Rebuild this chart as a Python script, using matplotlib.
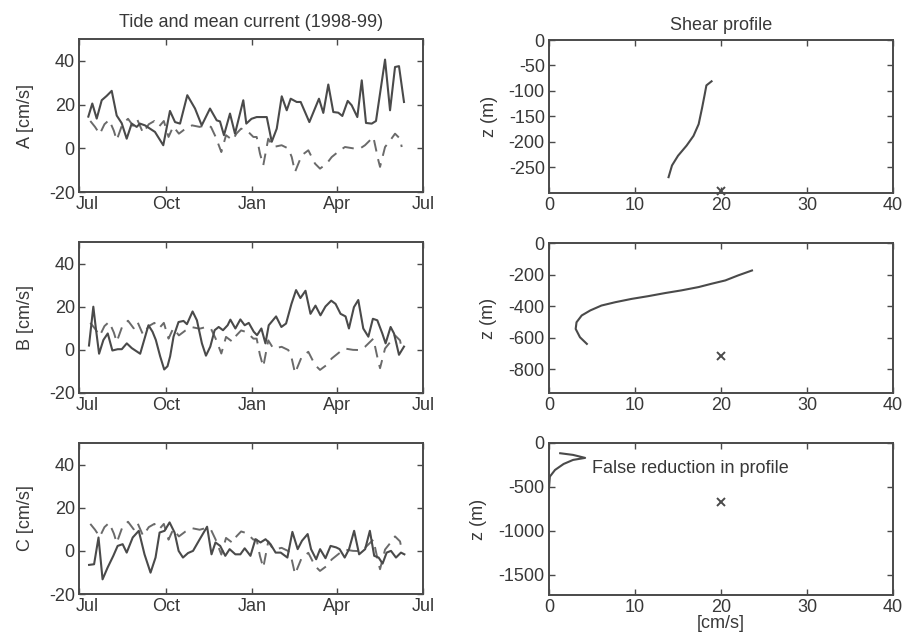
import numpy as np
import matplotlib
matplotlib.use("Agg")
import matplotlib.pyplot as plt
import matplotlib.dates as mdates
from matplotlib.transforms import ScaledTranslation

plt.rcParams['font.family'] = ['Liberation Sans', 'DejaVu Sans']
plt.rcParams['axes.unicode_minus'] = False

INK = '#4a4a4a'
TXT = '#383838'
FS = 13

# ---- time series: days since 1 Jul 1998, speeds in cm/s ----
start = np.datetime64('1998-07-01')

a_days = [9.9, 14.1, 18.8, 24.1, 29.4, 34.7, 40.0, 45.3, 50.6, 55.9, 61.2, 64.7, 70.0,
          75.3, 80.6, 89.4, 96.5, 101.9, 107.2, 114.9, 123.1, 130.2, 139.0, 146.1,
          149.6, 153.8, 160.2, 165.5, 174.3, 177.5, 183.0, 188.5, 199.2, 204.5, 209.8,
          215.1, 220.4, 224.6, 231.0, 235.2, 244.4, 254.6, 259.2, 264.5, 269.8, 275.1,
          279.4, 285.1, 289.3, 295.3, 300.0, 304.5, 310.6, 315.1, 324.7, 330.0, 335.3,
          339.5, 344.8]
a_vals = [14.5, 20.5, 13.6, 22.0, 24.0, 26.3, 15.0, 11.5, 4.4, 11.3, 9.8, 11.3, 10.5,
          9.0, 7.5, 1.4, 17.1, 12.0, 11.3, 24.3, 18.2, 10.5, 18.2, 12.8,
          12.3, 6.0, 15.9, 6.7, 22.0, 11.3, 13.5, 14.3, 14.3, 3.0, 9.0,
          23.8, 17.4, 22.7, 21.2, 21.2, 12.0, 22.7, 16.2, 29.2, 16.6, 16.3,
          14.8, 21.7, 19.7, 14.3, 31.1, 11.6, 11.3, 12.5, 40.6, 17.4, 37.2,
          37.6, 21.2]

b_days = [10.6, 15.2, 17.7, 21.3, 25.9, 30.5, 35.4, 41.1, 45.4, 50.7, 56.0, 64.9, 73.7,
          78.0, 81.5, 86.1, 90.4, 93.9, 96.7, 100.3, 105.6, 110.9, 114.5, 120.5, 125.1,
          130.4, 134.7, 139.3, 143.9, 148.2, 152.8, 157.7, 160.6, 165.9, 171.2, 175.8,
          180.1, 185.4, 188.9, 193.5, 197.8, 201.3, 209.1, 214.7, 219.7, 225.4, 230.3,
          234.9, 240.3, 245.6, 250.9, 256.2, 261.5, 267.6, 272.2, 277.5, 282.8, 286.4,
          291.7, 296.3, 301.6, 307.0, 311.8, 316.5, 321.8, 325.3, 330.6, 334.2, 339.5,
          344.8]
b_vals = [2.0, 20.0, 10.6, -1.8, 4.6, 7.6, -0.3, 0.3, 0.3, 3.0, 0.8, -1.8, 11.4,
          8.4, 4.6, -3.0, -9.1, -7.6, -3.0, 6.1, 12.9, 13.4, 11.9, 17.8, 13.7,
          3.0, -2.7, 1.5, 9.1, 10.6, 9.1, 11.4, 14.0, 9.9, 14.1, 11.4,
          12.5, 8.4, 6.8, 9.9, 3.0, 11.4, 15.5, 10.6, 12.2, 21.3, 27.7,
          24.0, 27.4, 16.7, 20.5, 16.0, 20.1, 22.8, 21.3, 16.7, 15.5, 9.9,
          19.8, 23.1, 9.9, 6.1, 14.4, 13.7, 7.6, 3.0, 10.6, 7.6, -2.3,
          1.5]

c_days = [10.7, 16.0, 20.7, 25.0, 30.3, 36.4, 41.0, 46.3, 50.6, 57.0, 63.4, 69.5, 75.9,
          81.2, 85.5, 90.8, 96.1, 101.4, 105.7, 110.3, 115.7, 121.0, 128.1, 135.9,
          140.6, 144.8, 149.8, 155.2, 159.8, 165.9, 171.2, 175.8, 181.9, 187.2, 192.6,
          197.9, 203.2, 208.6, 214.0, 221.1, 226.4, 232.0, 236.6, 242.6, 246.2, 251.6,
          255.8, 261.5, 266.9, 272.9, 276.5, 281.9, 286.5, 291.9, 297.2, 303.6, 308.6,
          313.2, 317.9, 322.1, 326.4, 331.0, 336.3, 341.6, 345.2]
c_vals = [-6.5, -6.2, 6.2, -13.2, -7.8, -2.3, 2.3, 3.1, -0.8, 6.2, 9.3, -1.6, -10.1,
          -3.1, 8.5, 9.3, 13.2, 8.5, 0.0, -3.1, -1.0, 0.0, 5.4, 11.2,
          -1.6, 3.9, 2.3, -2.3, 0.8, -1.6, -1.6, 1.2, -2.3, 5.4, 3.9,
          5.4, 3.1, -0.8, -0.8, -3.1, 8.8, 0.8, 4.7, 7.8, 0.8, -3.9,
          0.8, -3.4, 2.3, 1.6, 0.8, -3.1, 0.8, 9.3, -1.6, 0.8, 9.3,
          -2.3, -3.1, -5.9, -0.8, 0.0, -3.1, -0.8, -1.6]

# tidal component, common to all three moorings
tide_days = [12.0, 17.0, 22.0, 27.0, 32.0, 37.0, 40.0, 46.0, 52.0, 58.0, 62.0, 68.0,
             74.0, 80.0, 85.0, 90.0, 95.0, 100.0, 106.0, 113.0, 120.0, 128.0, 134.0,
             140.0, 145.0, 151.0, 156.0, 163.0, 167.0, 172.0, 178.0, 185.0, 188.5,
             192.0, 195.5, 200.8, 206.2, 215.0, 222.1, 225.7, 229.2, 236.3, 243.3,
             250.4, 255.7, 262.8, 268.1, 276.9, 282.2, 290.7, 298.1, 303.4, 312.3,
             317.6, 319.4, 324.7, 330.0, 335.3, 340.6, 342.4]
tide_vals = [12.5, 9.8, 6.5, 11.0, 13.0, 8.0, 3.7, 11.0, 13.5, 10.0, 13.0, 7.0,
             11.0, 12.5, 10.0, 12.5, 5.2, 10.0, 6.7, 9.0, 10.5, 9.8, 10.5,
             9.8, 5.2, -1.7, 6.0, 3.7, 6.7, 9.0, 8.2, 5.2, 5.2,
             -2.4, -7.8, 4.4, 0.6, 1.4, -0.1, -4.0, -10.8, -3.2, -0.9,
             -7.0, -9.3, -7.0, -4.0, -0.9, 0.6, 0.0, -0.1, 1.4, 5.2,
             -5.5, -8.5, 0.6, 3.5, 6.7, 4.4, 0.6]

series_labels = ['A [cm/s]', 'B [cm/s]', 'C [cm/s]']
series_days = [a_days, b_days, c_days]
series_vals = [a_vals, b_vals, c_vals]

# ---- vertical shear profiles: speed (cm/s) vs depth (m) ----
prof_a_speed = [18.9, 18.3, 18.1, 17.8, 17.4, 16.8, 16.0, 15.0, 14.3, 13.9]
prof_a_z = [-81, -89, -107, -133, -165, -188, -207, -227, -246, -269]
prof_b_speed = [23.6, 22.0, 20.5, 18.9, 17.4, 15.4, 13.5, 11.5, 9.6, 7.7, 6.1, 4.8,
                3.8, 3.2, 3.1, 3.6, 4.4]
prof_b_z = [-174, -205, -237, -258, -279, -300, -317, -337, -354, -375, -396, -427,
            -459, -502, -544, -597, -639]
prof_c_speed = [0.0, 0.1, 0.7, 1.7, 2.8, 4.2, 2.8, 1.3]
prof_c_z = [-515, -383, -307, -239, -193, -170, -136, -117]
prof_speeds = [prof_a_speed, prof_b_speed, prof_c_speed]
prof_depths = [prof_a_z, prof_b_z, prof_c_z]

# reference point for each mooring (speed, depth)
ref_speed = [20, 20, 20]
ref_z = [-297, -715, -670]

z_limits = [(-300, 0), (-950, 0), (-1730, 0)]
z_ticks = [[0, -50, -100, -150, -200, -250],
           [0, -200, -400, -600, -800],
           [0, -500, -1000, -1500]]

month_ticks = ['1998-07-01', '1998-10-01', '1999-01-01', '1999-04-01', '1999-07-01']
month_labels = ['Jul', 'Oct', 'Jan', 'Apr', 'Jul']

fig = plt.figure(figsize=(9.07, 6.39), dpi=100)

left_boxes = [(0.0871, 0.6995, 0.3793, 0.2394),
              (0.0871, 0.3850, 0.3793, 0.2363),
              (0.0871, 0.0704, 0.3793, 0.2363)]
right_boxes = [(0.6053, 0.6980, 0.3793, 0.2394),
               (0.6053, 0.3850, 0.3793, 0.2347),
               (0.6053, 0.0689, 0.3793, 0.2379)]


def style(ax):
    for s in ax.spines.values():
        s.set_color(INK)
        s.set_linewidth(1.4)
    ax.tick_params(direction='in', length=4, width=1.0, colors=INK,
                   labelsize=FS, labelcolor=TXT, top=True, right=True, pad=3)


tick_dates = [mdates.date2num(np.datetime64(d)) for d in month_ticks]
nudge_right = ScaledTranslation(6 / 72, 0, fig.dpi_scale_trans)

for i in range(3):
    ax = fig.add_axes(left_boxes[i])
    t = start + np.array(series_days[i]) * np.timedelta64(86400, 's')
    tt = start + np.array(tide_days) * np.timedelta64(86400, 's')
    ax.plot(tt, tide_vals, color='#6a6a6a', lw=1.4, dashes=(6, 4))
    ax.plot(t, series_vals[i], color=INK, lw=1.5)
    ax.set_xlim(tick_dates[0], tick_dates[-1])
    ax.set_ylim(-20, 50)
    ax.set_yticks([-20, 0, 20, 40])
    ax.set_xticks(tick_dates)
    ax.set_xticklabels(month_labels)
    ax.set_ylabel(series_labels[i], fontsize=FS, color=TXT, labelpad=11)
    style(ax)
    first = ax.get_xticklabels()[0]
    first.set_transform(first.get_transform() + nudge_right)
    if i == 0:
        ax.set_title('Tide and mean current (1998-99)', fontsize=FS,
                     color=TXT, pad=9)

for i in range(3):
    ax = fig.add_axes(right_boxes[i])
    ax.plot(prof_speeds[i], prof_depths[i], color=INK, lw=1.5)
    ax.plot(ref_speed[i], ref_z[i], marker='x', color=INK, ms=6, mew=1.4,
            linestyle='none', clip_on=False)
    ax.set_xlim(0, 40)
    ax.set_ylim(*z_limits[i])
    ax.set_xticks([0, 10, 20, 30, 40])
    ax.set_yticks(z_ticks[i])
    ax.set_ylabel('z (m)', fontsize=FS, color=TXT, labelpad=8)
    style(ax)
    if i == 0:
        ax.set_title('Shear profile', fontsize=FS, color=TXT, pad=7)
    if i == 2:
        ax.set_xlabel('[cm/s]', fontsize=FS, color=TXT, labelpad=-1)
        ax.text(5.0, -295, 'False reduction in profile', fontsize=FS,
                color=TXT, va='center', ha='left')

fig.savefig('out.png', dpi=100)
